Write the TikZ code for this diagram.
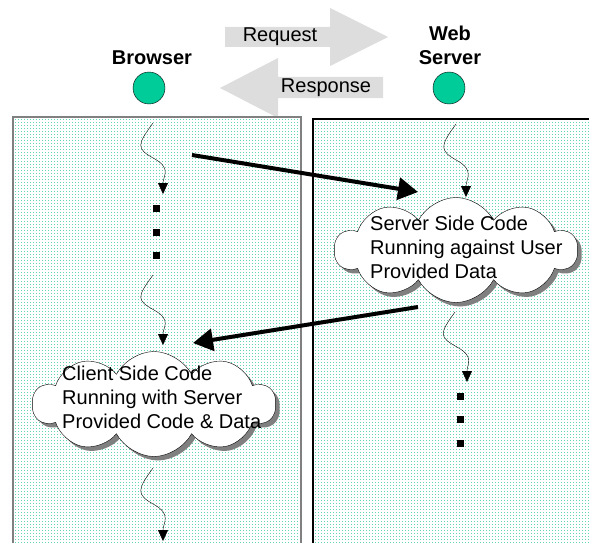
\documentclass[tikz,border=0pt]{standalone}
\usepackage{fontspec}
\setmainfont{Liberation Sans}
\usetikzlibrary{arrows.meta,calc,patterns,shapes.symbols,shadows}
\definecolor{nodegreen}{RGB}{0,204,153}
\definecolor{dotgreen}{RGB}{95,215,175}
\definecolor{flowgray}{RGB}{221,221,221}
\pgfdeclarepatternformonly{specks}{\pgfqpoint{0pt}{0pt}}{\pgfqpoint{3pt}{3pt}}{\pgfqpoint{3pt}{3pt}}{
  \pgfpathrectangle{\pgfqpoint{0pt}{0pt}}{\pgfqpoint{1.3pt}{1.3pt}}\pgfusepath{fill}}
\newcommand{\wiggle}[2]{\draw[wig] (#1) .. controls +(-16,22) and +(-18,-10) .. ($(#1)!0.5!(#2)+(-4,0)$) .. controls +(18,10) and +(0,-18) .. (#2);}
\tikzset{
  lbl/.style={font=\fontsize{20}{24}\selectfont\bfseries},
  txt/.style={font=\fontsize{20}{24}\selectfont, inner sep=0pt},
  dot/.style={circle, draw=black, fill=nodegreen, minimum size=32pt, inner sep=0pt},
  sq/.style={fill=black, minimum size=7pt, inner sep=0pt},
  puff/.style={cloud, cloud puffs=10, cloud puff arc=125, draw=black, fill=white, minimum width=243pt, minimum height=105pt, inner sep=0pt,
    drop shadow={shadow xshift=4pt, shadow yshift=-4pt, fill=black!50, opacity=1}},
  wig/.style={thin, -{Triangle[length=11pt,width=10pt]}},
  bigarrow/.style={line width=4pt, -{Triangle[length=20pt,width=22pt]}},
  column/.style={pattern=specks, pattern color=dotgreen}
}
\begin{document}
\begin{tikzpicture}[x=1pt,y=-1pt]
\useasboundingbox (0,0) rectangle (589,543);
\clip (0,0) rectangle (589,543);
% request / response
\fill[flowgray] (225,27) -- (330,27) -- (330,8) -- (388,37) -- (330,66) -- (330,47) -- (225,47) -- cycle;
\fill[flowgray] (383,77) -- (278,77) -- (278,58) -- (220,88) -- (278,118) -- (278,98) -- (383,98) -- cycle;
\node[txt] (req) at (280,37) {Request};
\node[txt] (resp) at (326,88) {Response};
% the two sides
\fill[white] (13,117) rectangle (301,560);
\fill[column] (13,117) rectangle (301,560);
\draw[black!50, line width=2pt] (13,117) rectangle (301,560);
\fill[white] (313,119) rectangle (600,560);
\fill[column] (313,119) rectangle (600,560);
\draw[black, line width=1.5pt] (313,119) rectangle (600,560);
% ends
\node[lbl] (browser) at (152,58) {Browser};
\node[lbl, align=center] (server) at (450,45) {Web\\Server};
\node[dot] (bdot) at (149,88) {};
\node[dot] (sdot) at (449,88) {};
% clouds
\node[puff] (srvcloud) at (456,250) {};
\node[txt, align=left, anchor=west] (srvtxt) at (370,247) {Server Side Code\\Running against User\\Provided Data};
\node[puff] (clicloud) at (154,404) {};
\node[txt, align=left, anchor=west] (clitxt) at (62,397) {Client Side Code\\Running with Server\\Provided Code \& Data};
% flow of each side
\coordinate (l1s) at (153,123);
\coordinate (l1t) at (163,194);
\coordinate (l2s) at (153,275);
\coordinate (l2t) at (163,345);
\coordinate (l3s) at (153,468);
\coordinate (l3t) at (163,541);
\coordinate (r1s) at (456,124);
\coordinate (r1t) at (466,197);
\coordinate (r2s) at (455,312);
\coordinate (r2t) at (467,382);
\wiggle{l1s}{l1t}
\wiggle{l2s}{l2t}
\wiggle{l3s}{l3t}
\wiggle{r1s}{r1t}
\wiggle{r2s}{r2t}
\foreach \y in {208,232,255}{
\node[sq] (ld\y) at (156,\y) {};
}
\foreach \y in {396,419,443}{
\node[sq] (rd\y) at (460,\y) {};
}
% request goes over, response comes back
\coordinate (a1s) at (192,155);
\coordinate (a1t) at (418,192);
\coordinate (a2s) at (418,307);
\coordinate (a2t) at (193,343);
\draw[bigarrow] (a1s) -- (a1t);
\draw[bigarrow] (a2s) -- (a2t);
\end{tikzpicture}
\end{document}
